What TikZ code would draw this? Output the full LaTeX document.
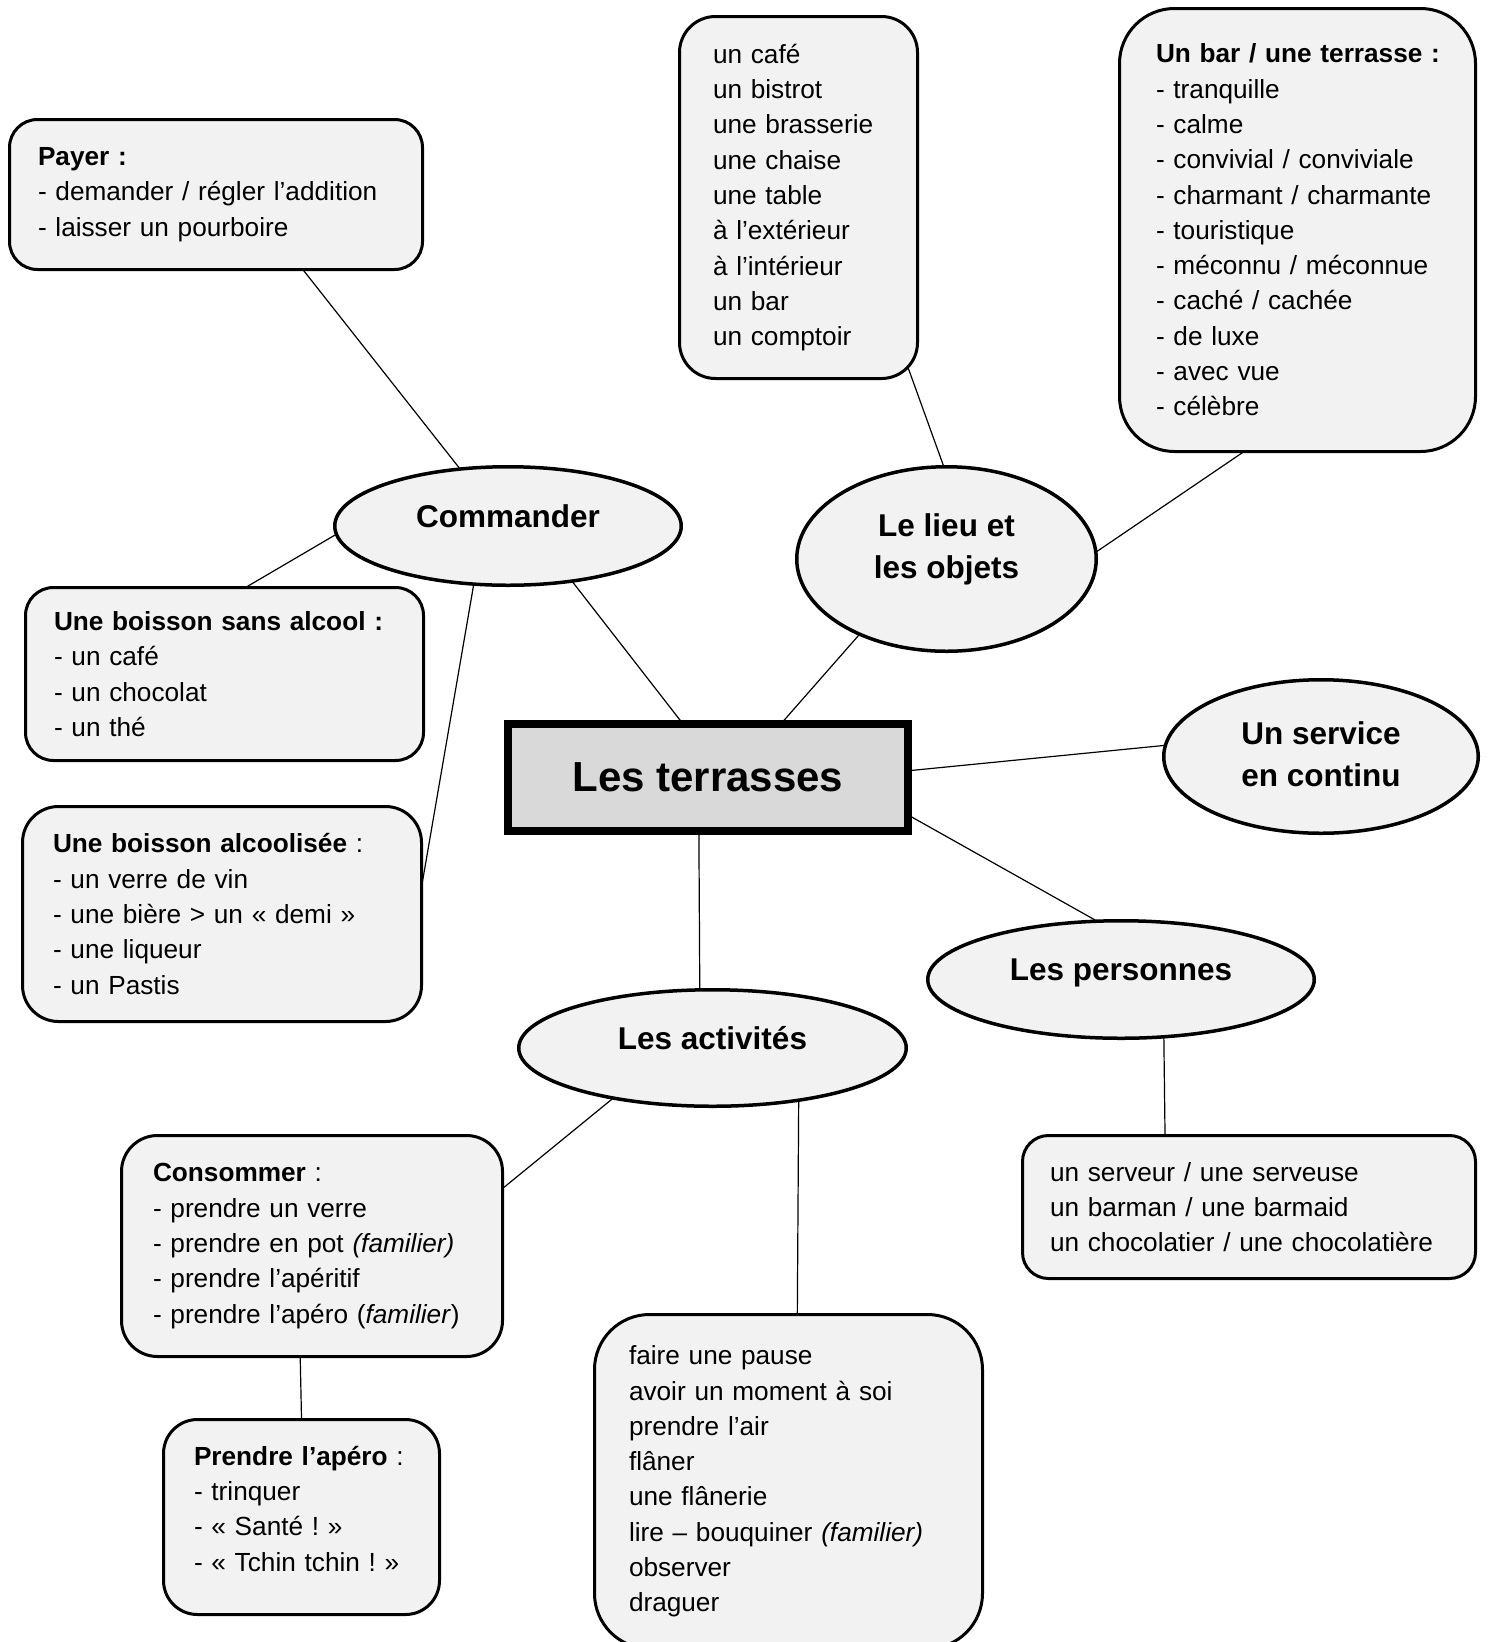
\documentclass[tikz,border=0pt]{standalone}
\usepackage{fontspec}
\setmainfont{Liberation Sans}
\usetikzlibrary{shapes.geometric,backgrounds}
\frenchspacing

\definecolor{boxcolor}{rgb}{0.949020, 0.949020, 0.949020}
\definecolor{maincolor}{rgb}{0.850980, 0.850980, 0.850980}

\newcommand{\listsize}{\fontsize{26.2}{35.3}\selectfont}
\newcommand{\titlesize}{\fontsize{31.5}{42}\selectfont\bfseries}
\newcommand{\titletext}[2]{\raisebox{#1}[\height][\depth]{\begin{tabular}{@{}c@{}}#2\end{tabular}}}

\tikzset{
  listbox/.style={draw, line width=3pt, fill=boxcolor, align=left, inner ysep=0pt, font=\listsize},
  topic/.style={ellipse, draw, line width=3.5pt, fill=boxcolor, inner sep=0pt, font=\titlesize},
  link/.style={line width=1.2pt, shorten <=-14pt, shorten >=-14pt}
}

\begin{document}
\begin{tikzpicture}[x=1pt,y=-1pt]
\useasboundingbox (0,0) rectangle (1490,1642);

% le centre
\node[draw, line width=8pt, fill=maincolor, minimum width=400pt, minimum height=107pt, inner sep=0pt,
  font=\fontsize{42}{50}\selectfont\bfseries] (terrasses) at (708,777.5) {Les terrasses};

% les themes
\node[topic, minimum width=346.5pt, minimum height=118.5pt] (commander) at (508,526) {\titletext{7pt}{Commander}};
\node[topic, minimum width=299.5pt, minimum height=184.5pt] (lieu) at (946.5,559) {\titletext{10pt}{Le lieu et\\les objets}};
\node[topic, minimum width=314.5pt, minimum height=153.5pt] (service) at (1321,756.5) {\titletext{-1pt}{Un service\\en continu}};
\node[topic, minimum width=386.5pt, minimum height=117.5pt] (personnes) at (1121,979.5) {\titletext{7pt}{Les personnes}};
\node[topic, minimum width=387.5pt, minimum height=116.5pt] (activites) at (712.5,1048) {\titletext{7pt}{Les activités}};

% les listes
\node[listbox, text width=356pt, inner xsep=28.5pt, minimum height=150pt, rounded corners=28pt] (payer) at (216,194.5)
  {\textbf{Payer :}\\- demander / régler l’addition\\- laisser un pourboire};
\node[listbox, text width=171pt, inner xsep=33.5pt, minimum height=362pt, rounded corners=36pt] (lieux) at (798.5,197.5)
  {un café\\un bistrot\\une brasserie\\une chaise\\une table\\à l’extérieur\\à l’intérieur\\un bar\\un comptoir};
\node[listbox, text width=283pt, inner xsep=36.5pt, minimum height=443pt, rounded corners=55pt] (bar) at (1297.5,230)
  {\mbox{\textbf{Un bar / une terrasse :}}\\- tranquille\\- calme\\- convivial / conviviale\\- charmant / charmante\\- touristique\\- méconnu / méconnue\\- caché / cachée\\- de luxe\\- avec vue\\- célèbre};
\node[listbox, text width=341pt, inner xsep=28.5pt, minimum height=173pt, rounded corners=28pt] (sansalcool) at (224.5,674)
  {\textbf{Une boisson sans alcool :}\\- un café\\- un chocolat\\- un thé};
\node[listbox, text width=338pt, inner xsep=30.5pt, minimum height=215pt, rounded corners=36pt] (alcool) at (222,914)
  {\textbf{Une boisson alcoolisée} :\\- un verre de vin\\- une bière > un « demi »\\- une liqueur\\- un Pastis};
\node[listbox, text width=318pt, inner xsep=31.5pt, minimum height=221pt, rounded corners=36pt] (consommer) at (312,1246)
  {\textbf{Consommer} :\\- prendre un verre\\- prendre en pot \textit{(familier)}\\- prendre l’apéritif\\- prendre l’apéro (\textit{familier})};
\node[listbox, text width=215pt, inner xsep=30.5pt, minimum height=195pt, rounded corners=34pt] (apero) at (301.5,1517)
  {\textbf{Prendre l’apéro} :\\- trinquer\\- « Santé ! »\\- « Tchin tchin ! »\\[-18.5pt]\mbox{}};
\node[listbox, text width=319pt, inner xsep=34.5pt, minimum height=334pt, rounded corners=55pt] (passetemps) at (788.5,1481.5)
  {faire une pause\\avoir un moment à soi\\prendre l’air\\flâner\\une flânerie\\lire – bouquiner \textit{(familier)}\\observer\\draguer};
\node[listbox, text width=398pt, inner xsep=27.5pt, minimum height=143pt, rounded corners=26pt] (personnel) at (1249,1207)
  {un serveur / une serveuse\\un barman / une barmaid\\un chocolatier / une chocolatière};

% les liens
\begin{scope}[on background layer]
\draw[link] (payer.-41.6) -- (commander.130.8);
\draw[link] (commander.183.9) -- (sansalcool.75.2);
\draw[link] (commander.240.6) -- (alcool.10.1);
\draw[link] (commander.-41.4) -- (terrasses.116);
\draw[link] (lieux.-58.4) -- (lieu.92.1);
\draw[link] (lieu.221.4) -- (terrasses.37.1);
\draw[link] (lieu.3.4) -- (bar.256.3);
\draw[link] (terrasses.2.1) -- (service.176.9);
\draw[link] (terrasses.-11.1) -- (personnes.114.5);
\draw[link] (terrasses.261.1) -- (activites.102.7);
\draw[link] (personnes.-54.6) -- (personnel.139.7);
\draw[link] (activites.207.7) -- (consommer.17.1);
\draw[link] (activites.-32.9) -- (passetemps.87.5);
\draw[link] (consommer.264.9) -- (apero.90);
\end{scope}
\end{tikzpicture}
\end{document}
